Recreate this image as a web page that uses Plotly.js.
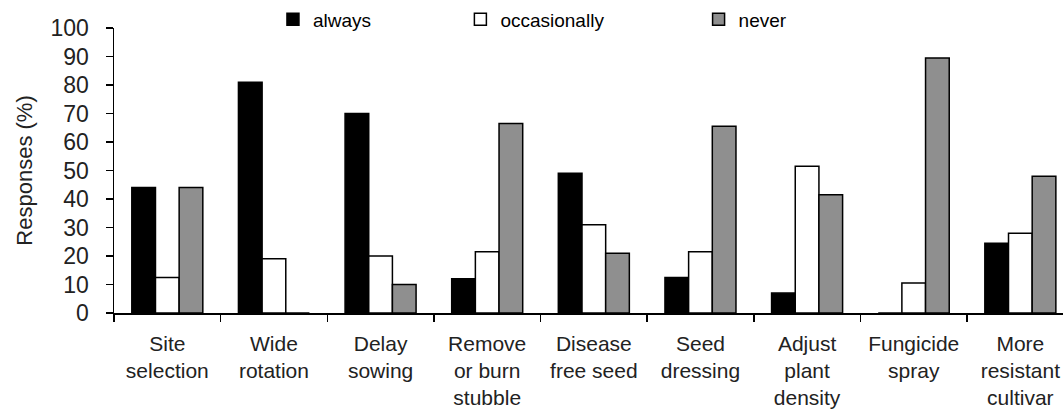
<!DOCTYPE html>
<html>
<head>
<meta charset="utf-8">
<script src="https://cdn.plot.ly/plotly-3.0.1.min.js"></script>
<style>
html, body { margin: 0; padding: 0; background: #fff; overflow: hidden; }
#chart { width: 1063px; height: 414px; }
</style>
</head>
<body>
<div id="chart"></div>
<script>
const categories = [
  "Site<br>selection",
  "Wide<br>rotation",
  "Delay<br>sowing",
  "Remove<br>or burn<br>stubble",
  "Disease<br>free seed",
  "Seed<br>dressing",
  "Adjust<br>plant<br>density",
  "Fungicide<br>spray",
  "More<br>resistant<br>cultivar"
];
const always       = [44, 81, 70, 12, 49, 12.5, 7, 0, 24.5];
const occasionally = [12.5, 19, 20, 21.5, 31, 21.5, 51.5, 10.5, 28];
const never        = [44, 0, 10, 66.5, 21, 65.5, 41.5, 89.5, 48];
const seriesNames  = ["always", "occasionally", "never"];
const yTicks       = [0, 10, 20, 30, 40, 50, 60, 70, 80, 90, 100];

const FONT = "Liberation Sans, Arial, sans-serif";
const outline = { color: "#000", width: 1.5 };

const traces = [
  {
    type: "bar", name: seriesNames[0], x: categories, y: always,
    marker: { color: "#000", line: outline }, legend: "legend"
  },
  {
    type: "bar", name: seriesNames[1], x: categories, y: occasionally,
    marker: { color: "#fff", line: outline }, legend: "legend2"
  },
  {
    type: "bar", name: seriesNames[2], x: categories, y: never,
    marker: {
      color: "#fff",
      line: outline,
      pattern: { shape: ".", fgcolor: "#000", bgcolor: "#fff", size: 2, solidity: 0.5 }
    },
    legend: "legend3"
  }
];

const legendBase = {
  orientation: "h", yanchor: "middle", xanchor: "left",
  y: 1.03, bgcolor: "rgba(0,0,0,0)",
  font: { family: FONT, size: 19, color: "#000" },
  itemwidth: 30, tracegroupgap: 0
};

const layout = {
  width: 1063, height: 414,
  margin: { l: 114, r: 0, t: 24.5, b: 100.7, pad: 0 },
  paper_bgcolor: "#fff", plot_bgcolor: "#fff",
  font: { family: FONT, size: 22, color: "#000" },
  barmode: "group",
  bargap: 0.334, bargroupgap: 0,
  showlegend: true,
  legend:  Object.assign({}, legendBase, { x: 0.1675 }),
  legend2: Object.assign({}, legendBase, { x: 0.365 }),
  legend3: Object.assign({}, legendBase, { x: 0.616 }),
  xaxis: {
    type: "category",
    range: [-0.5, 8.4],
    showline: true, linecolor: "#000", linewidth: 1.5,
    ticks: "outside", tickson: "boundaries", ticklen: 7, tickwidth: 1.5, tickcolor: "#000",
    showgrid: false, zeroline: false,
    tickfont: { family: FONT, size: 21, color: "#222" },
    tickangle: 0,
    ticklabelstandoff: 11
  },
  yaxis: {
    range: [0, 100],
    tickvals: yTicks,
    ticktext: yTicks.map(String),
    showline: true, linecolor: "#000", linewidth: 1.5,
    ticks: "outside", ticklen: 7, tickwidth: 1.5, tickcolor: "#000",
    showgrid: false, zeroline: false,
    tickfont: { family: FONT, size: 23, color: "#222" },
    ticklabelstandoff: 12,
    title: { text: "Responses (%)", font: { family: FONT, size: 22, color: "#222" }, standoff: 12 }
  }
};

Plotly.newPlot("chart", traces, layout, { staticPlot: true, displayModeBar: false });
</script>
</body>
</html>
